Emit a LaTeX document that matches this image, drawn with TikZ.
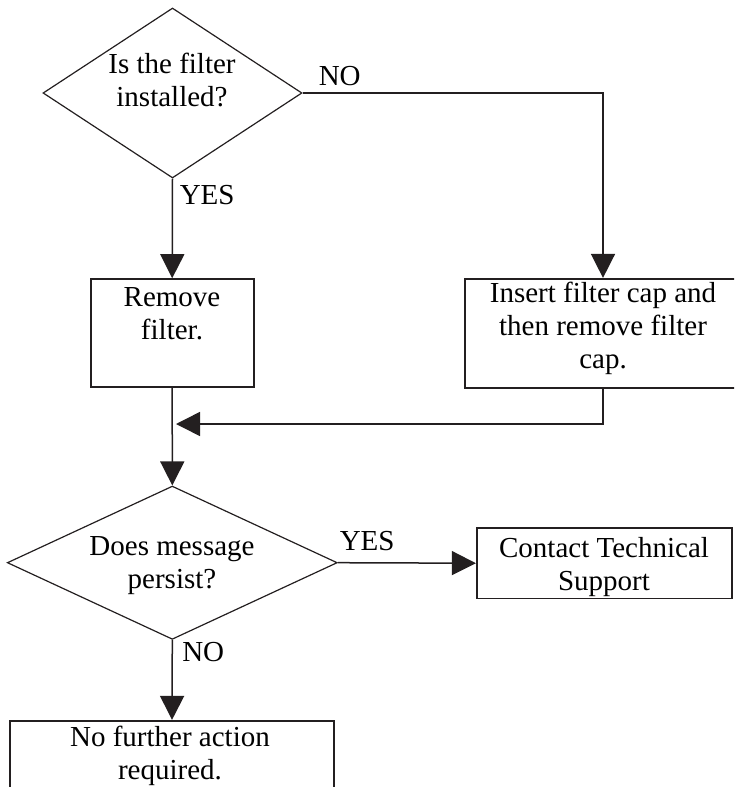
\documentclass[tikz,border=0pt]{standalone}
\usepackage{fontspec}
\setmainfont{Liberation Serif}
\usetikzlibrary{shapes.geometric,arrows.meta}
\definecolor{ink}{HTML}{231F20}
\begin{document}
\begin{tikzpicture}[x=1pt,y=-1pt,
  line width=1.5pt, draw=ink,
  every node/.style={font=\fontsize{29}{33}\selectfont, text=black},
  dia/.style={draw=ink, shape=diamond, inner sep=0pt, line width=1.2pt},
  box/.style={draw=ink, rectangle, inner sep=0pt, line width=1.6pt},
  txt/.style={align=center, inner sep=0pt, anchor=base},
  lbl/.style={inner sep=0pt, anchor=base west},
  arr/.style={draw=ink, -{Triangle[length=24pt,width=24pt]}},
]
\useasboundingbox (0,0) rectangle (734,787);
\clip (0,0) rectangle (734,787);

% decision 1
\node[dia, minimum width=259pt, minimum height=170pt] (d1) at (172.5,93) {};
\node[txt] (d1t) at (172,106) {Is the filter\\installed?};

% remove filter box
\node[box, minimum width=163pt, minimum height=108pt] (b1) at (172.2,333) {};
\node[txt] (b1t) at (172,339) {Remove\\filter.};

% insert cap box
\node[box, minimum width=276pt, minimum height=109pt] (b2) at (603,333.2) {};
\node[txt] (b2t) at (603,368) {Insert filter cap and\\then remove filter\\cap.};

% decision 2
\node[dia, minimum width=330pt, minimum height=153.3pt] (d2) at (172.3,562.7) {};
\node[txt] (d2t) at (172,588) {Does message\\persist?};

% contact box
\node[box, minimum width=255pt, minimum height=70.3pt] (b3) at (604.2,563.2) {};
\node[txt] (b3t) at (604,590) {Contact Technical\\Support};

% no further action box
\node[box, minimum width=324pt, minimum height=90pt] (b4) at (172,765.7) {};
\node[txt] (b4t) at (170,779.5) {No further action\\required.};

% connectors
\draw[arr] (d1.south) -- (b1.north);
\draw[arr] (d1.east) -| (b2.north);
\draw[arr] (b1.south) -- (d2.north);
\coordinate (m) at (176,424);
\draw[arr] (b2.south) |- (m);
\draw[arr] (d2.east) -- (b3.west);
\draw[arr] (d2.south) -- (b4.north);

% labels
\node[lbl] (yes1) at (179,204) {YES};
\node[lbl] (no1) at (318,85) {NO};
\node[lbl] (yes2) at (339,550) {YES};
\node[lbl] (no2) at (181.5,661.7) {NO};
\end{tikzpicture}
\end{document}
